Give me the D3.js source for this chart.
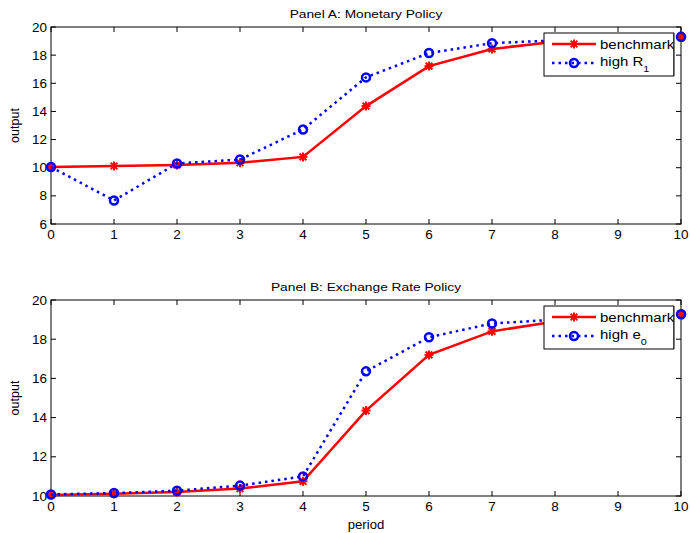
<!DOCTYPE html>
<html><head><meta charset="utf-8">
<script src="https://cdn.jsdelivr.net/npm/d3@7"></script>
<style>
body{margin:0;background:#fff;}
svg{font-family:"Liberation Sans",Arial,sans-serif;}
</style></head>
<body>
<svg id="chart" width="690" height="533"></svg>
<script>
const periods = [0,1,2,3,4,5,6,7,8,9,10];
const benchA = [10.05,10.12,10.2,10.35,10.77,14.38,17.22,18.44,18.95,19.15,19.3];
const highR1 = [10.05,7.67,10.3,10.58,12.72,16.42,18.15,18.85,19.05,19.2,19.3];
const benchB = [10.05,10.12,10.2,10.38,10.75,14.36,17.2,18.4,18.9,19.12,19.27];
const highE0 = [10.08,10.15,10.27,10.53,11.0,16.36,18.1,18.8,19.0,19.15,19.27];
const xTicks = [0,1,2,3,4,5,6,7,8,9,10];
const yTicksA = [6,8,10,12,14,16,18,20];
const yTicksB = [10,12,14,16,18,20];

const svg = d3.select("#chart");
const L = 51, R = 681;

function panel(cfg){
  const g = svg.append("g");
  const x = d3.scaleLinear().domain([0,10]).range([L,R]);
  const y = d3.scaleLinear().domain(cfg.ydom).range([cfg.bottom,cfg.top]);
  g.append("rect").attr("x",L).attr("y",cfg.top).attr("width",R-L).attr("height",cfg.bottom-cfg.top)
    .attr("fill","#fff").attr("stroke","#000").attr("stroke-width",1);
  const tl = 5;
  xTicks.forEach(t=>{
    g.append("line").attr("x1",x(t)).attr("x2",x(t)).attr("y1",cfg.bottom).attr("y2",cfg.bottom-tl).attr("stroke","#000");
    g.append("line").attr("x1",x(t)).attr("x2",x(t)).attr("y1",cfg.top).attr("y2",cfg.top+tl).attr("stroke","#000");
    g.append("text").attr("transform",`translate(${x(t)},${cfg.bottom+15}) scale(1.08,1)`)
      .attr("text-anchor","middle").attr("font-size",12.5).text(t);
  });
  cfg.yticks.forEach(t=>{
    g.append("line").attr("x1",L).attr("x2",L+tl).attr("y1",y(t)).attr("y2",y(t)).attr("stroke","#000");
    g.append("line").attr("x1",R).attr("x2",R-tl).attr("y1",y(t)).attr("y2",y(t)).attr("stroke","#000");
    g.append("text").attr("transform",`translate(${L-4},${y(t)+4.5}) scale(1.08,1)`)
      .attr("text-anchor","end").attr("font-size",12.5).text(t);
  });
  g.append("text").attr("transform",`translate(${(L+R)/2},${cfg.top-9}) scale(1.25,1)`)
    .attr("text-anchor","middle").attr("font-size",11).text(cfg.title);
  g.append("text").attr("transform",`translate(19,${(cfg.top+cfg.bottom)/2}) rotate(-90)`)
    .attr("text-anchor","middle").attr("font-size",12.5).text("output");

  const line = d3.line().x((d,i)=>x(periods[i])).y(d=>y(d));
  g.append("path").attr("d",line(cfg.bench)).attr("fill","none").attr("stroke","#ff0000").attr("stroke-width",2.5);
  cfg.bench.forEach((v,i)=>star(g,x(periods[i]),y(v)));
  g.append("path").attr("d",line(cfg.high)).attr("fill","none").attr("stroke","#0000ff").attr("stroke-width",2.5)
    .attr("stroke-dasharray","2.5,4");
  cfg.high.forEach((v,i)=>circ(g,x(periods[i]),y(v)));

  const lx = 544, ly = cfg.top+6, lw = 130, lh = 43;
  g.append("rect").attr("x",lx).attr("y",ly).attr("width",lw).attr("height",lh).attr("fill","#fff").attr("stroke","#000");
  const r1 = ly+11, r2 = ly+30;
  g.append("line").attr("x1",lx+8).attr("x2",lx+52).attr("y1",r1).attr("y2",r1).attr("stroke","#ff0000").attr("stroke-width",2.5);
  star(g,lx+30,r1);
  g.append("text").attr("transform",`translate(${lx+56},${r1+4.5}) scale(1.2,1)`).attr("font-size",12.5).text("benchmark");
  g.append("line").attr("x1",lx+8).attr("x2",lx+52).attr("y1",r2).attr("y2",r2).attr("stroke","#0000ff").attr("stroke-width",2.5).attr("stroke-dasharray","2.5,4");
  circ(g,lx+30,r2);
  const t = g.append("text").attr("transform",`translate(${lx+56},${r2+3}) scale(1.2,1)`).attr("font-size",12.5);
  t.append("tspan").text(cfg.lab);
  t.append("tspan").attr("dy",6).attr("font-size",9).text(cfg.sub);
  // re-draw border on top so legend text gets clipped visually at box edge
  g.append("rect").attr("x",lx+lw).attr("y",ly-1).attr("width",8).attr("height",lh+2).attr("fill","#fff");
  g.append("line").attr("x1",lx+lw).attr("x2",lx+lw).attr("y1",ly).attr("y2",ly+lh).attr("stroke","#000");
  g.append("line").attr("x1",R).attr("x2",R).attr("y1",ly-1).attr("y2",ly+lh+1).attr("stroke","#000");
  cfg.yticks.filter(v=>y(v)>=ly-1 && y(v)<=ly+lh+1).forEach(v=>{
    g.append("line").attr("x1",R).attr("x2",R-tl).attr("y1",y(v)).attr("y2",y(v)).attr("stroke","#000");
  });
  // last point marker on top
  const n = periods.length-1;
  star(g,x(periods[n]),y(cfg.bench[n]));
  circ(g,x(periods[n]),y(cfg.high[n]));
}
function star(g,cx,cy){
  const r=4.5;
  [[r,0],[0,r],[r*0.75,r*0.75],[r*0.75,-r*0.75]].forEach(([dx,dy])=>{
    g.append("line").attr("x1",cx-dx).attr("x2",cx+dx).attr("y1",cy-dy).attr("y2",cy+dy)
      .attr("stroke","#ff0000").attr("stroke-width",2);
  });
}
function circ(g,cx,cy){
  g.append("circle").attr("cx",cx).attr("cy",cy).attr("r",4).attr("fill","none").attr("stroke","#0000ff").attr("stroke-width",2.5);
}

panel({top:27,bottom:224,ydom:[6,20],yticks:yTicksA,title:"Panel A: Monetary Policy",bench:benchA,high:highR1,lab:"high R",sub:"1"});
panel({top:300,bottom:496,ydom:[10,20],yticks:yTicksB,title:"Panel B: Exchange Rate Policy",bench:benchB,high:highE0,lab:"high e",sub:"0"});
svg.append("text").attr("transform","translate(366,529) scale(1.05,1)").attr("text-anchor","middle").attr("font-size",12.5).text("period");
</script>
</body></html>
